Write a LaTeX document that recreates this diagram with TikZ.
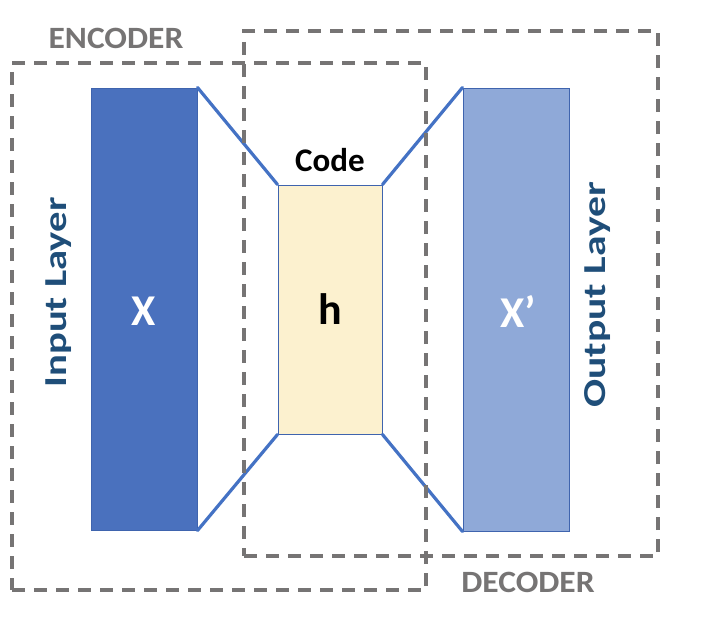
\documentclass[tikz,border=0pt]{standalone}
\usepackage{fontspec}
\usepackage{graphicx}
\setmainfont{Carlito}
\definecolor{lineblue}{HTML}{4472C4}
\definecolor{edgeblue}{HTML}{3F64AE}
\definecolor{inblue}{HTML}{4A71BE}
\definecolor{outblue}{HTML}{8FA9D8}
\definecolor{codefill}{HTML}{FCF1CF}
\definecolor{dashgray}{HTML}{767474}
\definecolor{labelblue}{HTML}{1F4E79}
\tikzset{
  layerbox/.style={draw=edgeblue, line width=1pt, inner sep=0pt, anchor=center},
  groupbox/.style={draw=dashgray, line width=3.4pt, dash pattern=on 13pt off 9pt, inner sep=0pt, anchor=center},
  link/.style={draw=lineblue, line width=3.2pt, line cap=round},
  grouplabel/.style={text=dashgray, font=\fontsize{31}{31}\selectfont\bfseries},
  sidelabel/.style={text=labelblue, font=\fontsize{32}{32}\selectfont\bfseries, rotate=90},
  boxtext/.style={font=\fontsize{44}{44}\selectfont\bfseries}
}
\begin{document}
\begin{tikzpicture}[x=1pt,y=-1pt]
\useasboundingbox (0,0) rectangle (712,618);
% layers
\node[layerbox, fill=inblue, minimum width=106pt, minimum height=442pt] (X) at (144,309) {};
\node[layerbox, fill=codefill, minimum width=104pt, minimum height=249pt] (h) at (330,309.5) {};
\node[layerbox, fill=outblue, minimum width=106pt, minimum height=443pt] (Xp) at (516,309.5) {};
\node[boxtext, text=white] (xt) at (144,311) {X};
\node[boxtext, text=black] (ht) at (330,309) {h};
\node[boxtext, text=white] (xpt) at (518,311) {X’};
\node[font=\fontsize{33}{33}\selectfont\bfseries] (code) at (330,160) {Code};
% links
\draw[link] (X.north east) -- (h.north west);
\draw[link] (X.south east) -- (h.south west);
\draw[link] (h.north east) -- (Xp.north west);
\draw[link] (h.south east) -- (Xp.south west);
% groups
\node[groupbox, minimum width=414pt, minimum height=527pt] (enc) at (219,326.5) {};
\node[groupbox, minimum width=414pt, minimum height=525pt] (dec) at (451,293.5) {};
\node[grouplabel] (enct) at (116,38) {\scalebox{1.08}[1]{ENCODER}};
\node[grouplabel] (dect) at (528,582) {\scalebox{1.08}[1]{DECODER}};
% side labels
\node[sidelabel] (inl) at (59,292.5) {\scalebox{1.27}[1]{Input Layer}};
\node[sidelabel] (outl) at (598,295) {\scalebox{1.3}[1]{Output Layer}};
\end{tikzpicture}
\end{document}
